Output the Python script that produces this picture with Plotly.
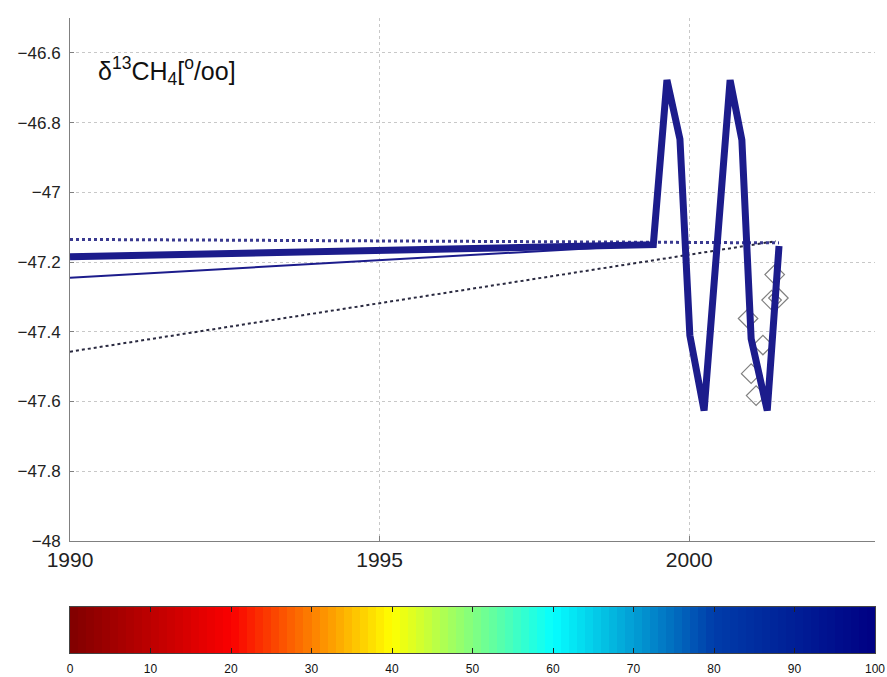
import plotly.graph_objects as go

# ---- data ----
years_main = [1990, 1999.42, 1999.64, 1999.85, 2000.01, 2000.24, 2000.66, 2000.85, 2001.0, 2001.26, 2001.45]
d13_main = [-47.185, -47.15, -46.678, -46.848, -47.41, -47.626, -46.678, -46.85, -47.42, -47.626, -47.154]

years_thin = [1990, 1999.42]
d13_thin = [-47.245, -47.15]

years_dot_low = [1990, 2001.4]
d13_dot_low = [-47.457, -47.14]

years_dot_top = [1990, 2001.45]
d13_dot_top = [-47.135, -47.145]

diamond_years = [2001.38, 2001.44, 2001.33, 2000.95, 2001.19, 2001.0, 2001.08]
diamond_d13 = [-47.236, -47.303, -47.309, -47.362, -47.438, -47.52, -47.583]

y_ticks = [-48, -47.8, -47.6, -47.4, -47.2, -47, -46.8, -46.6]
y_ticklabels = ["\u221248", "\u221247.8", "\u221247.6", "\u221247.4", "\u221247.2",
                "\u221247", "\u221246.8", "\u221246.6"]
x_ticks = [1990, 1995, 2000]
x_ticklabels = ["1990", "1995", "2000"]

cbar_levels = [i + 0.5 for i in range(100)]
cbar_ticks = [0, 10, 20, 30, 40, 50, 60, 70, 80, 90, 100]

NAVY = "#1c1c8c"

fig = go.Figure()

fig.add_trace(go.Scatter(x=years_dot_low, y=d13_dot_low, mode="lines",
                         line=dict(color="#2a2a40", width=2, dash="dot"),
                         showlegend=False, xaxis="x", yaxis="y"))
fig.add_trace(go.Scatter(x=years_dot_top, y=d13_dot_top, mode="lines",
                         line=dict(color="#3a3a90", width=3, dash="dot"),
                         showlegend=False, xaxis="x", yaxis="y"))
fig.add_trace(go.Scatter(x=years_thin, y=d13_thin, mode="lines",
                         line=dict(color=NAVY, width=2),
                         showlegend=False, xaxis="x", yaxis="y"))
fig.add_trace(go.Scatter(x=diamond_years, y=diamond_d13, mode="markers",
                         marker=dict(symbol="diamond-open", size=15,
                                     color="#808080", line=dict(width=1.2, color="#808080")),
                         showlegend=False, xaxis="x", yaxis="y"))
fig.add_trace(go.Scatter(x=years_main, y=d13_main, mode="lines",
                         line=dict(color=NAVY, width=7),
                         showlegend=False, xaxis="x", yaxis="y"))

# colour bar as a heatmap strip
fig.add_trace(go.Heatmap(x=cbar_levels, y=[0], z=[cbar_levels],
                         colorscale="Jet", reversescale=True, zmin=0, zmax=100,
                         showscale=False, xaxis="x2", yaxis="y2", hoverinfo="skip"))

fig.update_layout(
    width=887, height=677,
    margin=dict(l=70, r=12, t=18, b=24, autoexpand=False),
    paper_bgcolor="white", plot_bgcolor="white",
    font=dict(family="Liberation Sans, Arial, sans-serif", color="#222"),
    xaxis=dict(domain=[0, 1], anchor="y", range=[1990, 2003], automargin=False,
               tickvals=x_ticks, ticktext=x_ticklabels,
               tickfont=dict(size=21),
               showgrid=True, gridcolor="#c8c8c8", griddash="dot", gridwidth=1,
               showline=True, linecolor="#808080", linewidth=1,
               ticks="inside", ticklen=5, tickcolor="#808080",
               zeroline=False),
    yaxis=dict(domain=[0.1764, 1], anchor="x", range=[-48, -46.5], automargin=False,
               tickvals=y_ticks, ticktext=y_ticklabels,
               tickfont=dict(size=17), ticklabelstandoff=5,
               showgrid=True, gridcolor="#c8c8c8", griddash="dot", gridwidth=1,
               showline=True, linecolor="#808080", linewidth=1,
               ticks="inside", ticklen=4, tickcolor="#808080",
               zeroline=False),
    xaxis2=dict(domain=[0, 1], anchor="y2", range=[0, 100], automargin=False,
                tickvals=cbar_ticks, ticktext=[str(t) for t in cbar_ticks],
                tickfont=dict(size=12, color="#111"), ticklabelstandoff=5,
                ticks="inside", ticklen=5, tickcolor="#222", mirror="ticks",
                showline=True, linecolor="#444", linewidth=1,
                showgrid=False, zeroline=False),
    yaxis2=dict(domain=[0, 0.0724], anchor="x2", range=[-0.5, 0.5], automargin=False,
                showticklabels=False, ticks="", showgrid=False, zeroline=False,
                showline=True, linecolor="#444", linewidth=1, mirror=True),
    annotations=[
        dict(x=1990.42, y=-46.652, xref="x", yref="y", xanchor="left", yanchor="middle",
             text="δ<sup>13</sup>CH<sub>4</sub>[<sup>o</sup>/oo]", showarrow=False,
             font=dict(size=25, color="#111")),
        dict(x=2003.1, y=-47.917, xref="x", yref="y", xanchor="right", yanchor="middle",
             text="<i>Gaz Age (yr AD)</i>", showarrow=False,
             font=dict(size=17, color="#111")),
    ],
)

fig.write_html("out.html", config={"displayModeBar": False},
               post_script="document.body.style.margin='0px';document.body.style.overflow='hidden';")
